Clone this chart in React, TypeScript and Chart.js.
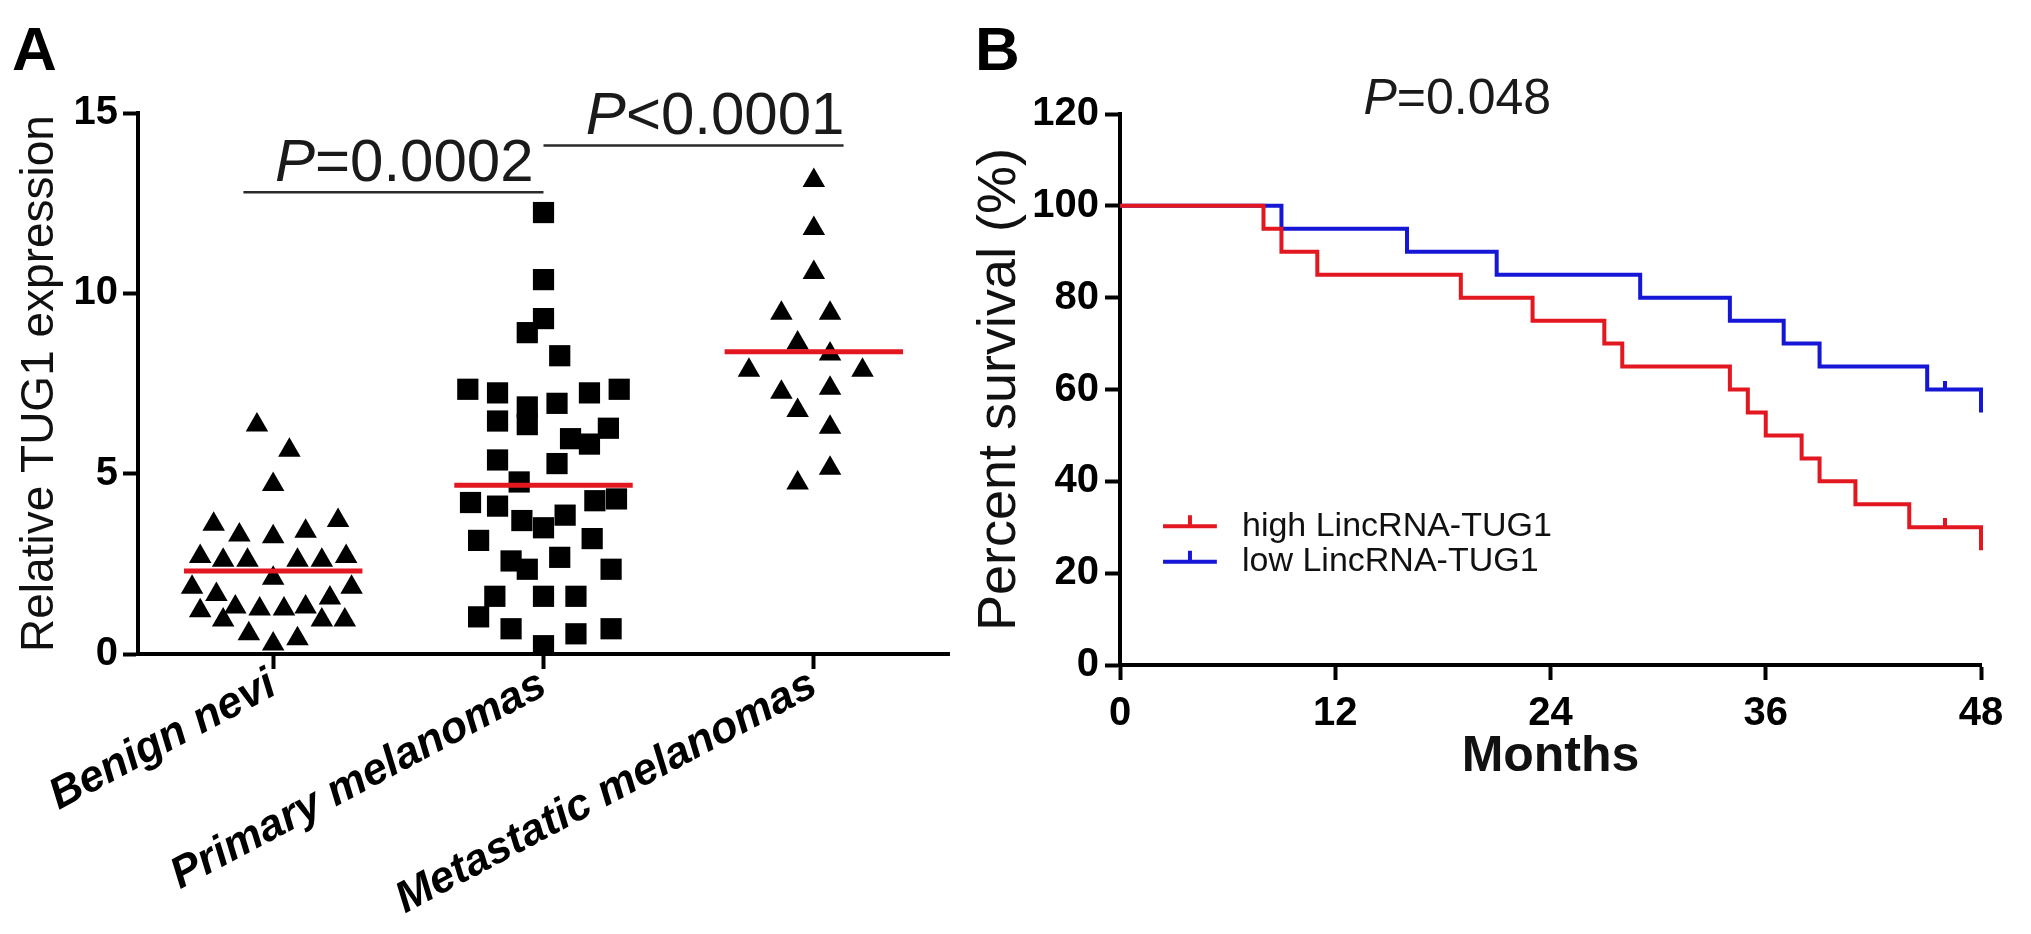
import { useEffect, useRef } from 'react';
import { Chart, registerables } from 'chart.js';

Chart.register(...registerables);

const FONT = 'Arial, "Liberation Sans", Helvetica, sans-serif';
const RED = '#e2171f';
const BLUE = '#1616d6';
const INK = '#111';

// ---- Panel A: relative TUG1 expression per group ----
const groups = ['Benign nevi', 'Primary melanomas', 'Metastatic melanomas'];

const benignValues = [6.35, 5.65, 4.7, 3.6, 3.3, 3.25, 3.4, 3.7, 2.7, 2.6, 2.6, 2.6, 2.6, 2.7, 2.1, 1.85, 1.65, 1.85, 1.55, 1.2, 1.3, 1.25, 1.25, 1.3, 0.94, 0.94, 0.94, 0.56, 0.42, 0.28];
const benignSpread = [-0.06, 0.06, 0, -0.22, -0.125, 0, 0.12, 0.24, -0.27, -0.185, -0.095, 0.09, 0.18, 0.27, 0, -0.3, -0.21, 0.29, 0.21, -0.27, -0.14, -0.05, 0.04, 0.12, -0.185, 0.18, 0.265, -0.09, 0.09, 0];

const primaryValues = [12.24, 10.38, 9.3, 8.91, 8.27, 7.34, 7.24, 6.85, 6.95, 7.24, 7.34, 6.46, 6.36, 6.26, 5.97, 5.82, 5.38, 5.28, 4.77, 4.2, 4.1, 4.25, 4.3, 3.7, 3.5, 3.85, 3.15, 3.2, 2.58, 2.35, 2.68, 2.35, 1.6, 1.6, 1.6, 1.03, 0.7, 0.56, 0.7, 0.23];
const primarySpread = [0, 0, 0, -0.06, 0.06, -0.28, -0.17, -0.06, 0.05, 0.17, 0.28, -0.17, -0.06, 0.24, 0.1, 0.17, -0.17, 0.05, -0.09, -0.27, -0.17, 0.19, 0.27, -0.08, 0, 0.08, -0.24, 0.18, -0.12, -0.06, 0.06, 0.25, -0.18, 0, 0.12, -0.24, -0.12, 0.12, 0.25, 0];

const metastaticValues = [13.13, 11.8, 10.58, 9.45, 9.45, 8.62, 8.32, 7.87, 7.87, 7.26, 7.37, 6.75, 6.29, 5.15, 4.74];
const metastaticSpread = [0, 0, 0, -0.12, 0.06, -0.06, 0.06, -0.24, 0.18, -0.12, 0.06, -0.06, 0.06, 0.06, -0.06];

const medians = [2.3, 4.68, 8.38];

// comparison bars
const pSignsA = ['=', '<'];
const pValuesA = ['0.0002', '0.0001'];
const pFrom = [-0.11, 1.0];
const pTo = [1.0, 2.11];
const pLevel = [12.8, 14.1];
const pTextShift = [0.04, 0.08];

// ---- Panel B: Kaplan-Meier ----
const seriesNames = ['high LincRNA-TUG1', 'low LincRNA-TUG1'];
const highMonths = [0, 8, 9, 11, 19, 23, 27, 28, 34, 35, 36, 38, 39, 41, 44, 48];
const highSurvival = [100, 95, 90, 85, 80, 75, 70, 65, 60, 55, 50, 45, 40, 35, 30, 25];
const lowMonths = [0, 9, 16, 21, 29, 34, 37, 39, 45, 48];
const lowSurvival = [100, 95, 90, 85, 80, 75, 70, 65, 60, 55];
const highCensored = [{ x: 46, y: 30 }];
const lowCensored = [{ x: 46, y: 60 }];
const pValueB = '0.048';

function drawPText(ctx: CanvasRenderingContext2D, sign: string, value: string, cx: number, baseline: number, size: number) {
  ctx.save();
  ctx.fillStyle = '#1a1a1a';
  ctx.textBaseline = 'alphabetic';
  ctx.textAlign = 'left';
  const italic = `italic ${size}px ${FONT}`;
  const normal = `${size}px ${FONT}`;
  ctx.font = italic;
  const wP = ctx.measureText('P').width;
  ctx.font = normal;
  const rest = sign + value;
  const wR = ctx.measureText(rest).width;
  const x0 = cx - (wP + wR) / 2;
  ctx.font = italic;
  ctx.fillText('P', x0, baseline);
  ctx.font = normal;
  ctx.fillText(rest, x0 + wP, baseline);
  ctx.restore();
}

function makeTick(color: string, len: number) {
  const c = document.createElement('canvas');
  c.width = 4;
  c.height = len * 2;
  const g = c.getContext('2d')!;
  g.fillStyle = color;
  g.fillRect(0, 0, 4, len);
  return c;
}

const axisBorder = { display: true, color: '#000', width: 4 };
const axisGrid = { display: true, drawOnChartArea: false, drawTicks: true, tickLength: 15, tickWidth: 4, tickColor: '#000' };
const tickFont = { family: FONT, size: 40, weight: 'bold' as const };

const bracketPlugin = {
  id: 'pBrackets',
  afterDraw(chart: any) {
    const { ctx, scales: { x, y } } = chart;
    pSignsA.forEach((sign, i) => {
      const x1 = x.getPixelForValue(pFrom[i]);
      const x2 = x.getPixelForValue(pTo[i]);
      const yy = y.getPixelForValue(pLevel[i]);
      ctx.save();
      ctx.strokeStyle = '#2a2a2a';
      ctx.lineWidth = 2.5;
      ctx.beginPath();
      ctx.moveTo(x1, yy);
      ctx.lineTo(x2, yy);
      ctx.stroke();
      ctx.restore();
      const cx = x.getPixelForValue((pFrom[i] + pTo[i]) / 2 + pTextShift[i]);
      drawPText(ctx, sign, pValuesA[i], cx, yy - 11, 60);
    });
  },
};

function PanelA() {
  const canvasRef = useRef<HTMLCanvasElement>(null);

  useEffect(() => {
    if (!canvasRef.current) return;
    const toPoints = (vals: number[], spread: number[], g: number) => vals.map((v, i) => ({ x: g + spread[i], y: v }));
    const chart = new Chart(canvasRef.current, {
      type: 'scatter',
      data: {
        datasets: [
          ...medians.map((m, i) => ({
            data: [{ x: i - 0.33, y: m }, { x: i + 0.33, y: m }],
            showLine: true,
            borderColor: RED,
            borderWidth: 5,
            pointRadius: 0,
          })),
          { data: toPoints(benignValues, benignSpread, 0), pointStyle: 'triangle', pointRadius: 13, backgroundColor: '#000', borderWidth: 0 },
          { data: toPoints(primaryValues, primarySpread, 1), pointStyle: 'rect', pointRadius: 15, backgroundColor: '#000', borderWidth: 0 },
          { data: toPoints(metastaticValues, metastaticSpread, 2), pointStyle: 'triangle', pointRadius: 13, backgroundColor: '#000', borderWidth: 0 },
        ],
      } as any,
      options: {
        animation: false,
        responsive: true,
        maintainAspectRatio: false,
        layout: { padding: { left: 0, top: 113, right: 61, bottom: 0 } },
        plugins: { legend: { display: false }, tooltip: { enabled: false } },
        scales: {
          x: {
            type: 'linear',
            min: -0.5,
            max: 2.5,
            afterBuildTicks: (s: any) => { s.ticks = groups.map((_, i) => ({ value: i })); },
            afterFit: (s: any) => { s.height = 280; },
            ticks: {
              callback: (v: any) => groups[v as number],
              minRotation: 28,
              maxRotation: 28,
              autoSkip: false,
              color: '#000',
              padding: -10,
              font: { family: FONT, size: 44, weight: 'bold', style: 'italic' },
            },
            border: axisBorder,
            grid: axisGrid,
          },
          y: {
            min: 0,
            max: 15,
            afterFit: (s: any) => { s.width = 138; },
            ticks: { stepSize: 5, color: '#000', padding: 5, font: tickFont },
            border: axisBorder,
            grid: axisGrid,
            title: {
              display: true,
              text: 'Relative TUG1 expression',
              color: INK,
              font: { family: FONT, size: 46 },
              padding: { top: 13, bottom: 0 },
            },
          },
        },
      } as any,
      plugins: [bracketPlugin],
    });
    return () => chart.destroy();
  }, []);

  return <canvas ref={canvasRef} style={{ display: 'block' }} />;
}

function PanelB() {
  const canvasRef = useRef<HTMLCanvasElement>(null);

  useEffect(() => {
    if (!canvasRef.current) return;
    const colors = [RED, BLUE];
    const tickRed = makeTick(RED, 9);
    const tickBlue = makeTick(BLUE, 9);

    const legendPlugin = {
      id: 'kmLegend',
      afterDraw(chart: any) {
        const { ctx, scales: { x, y } } = chart;
        const rows = [30.2, 22.5];
        seriesNames.forEach((name, i) => {
          const yy = y.getPixelForValue(rows[i]);
          const xa = x.getPixelForValue(2.4);
          const xb = x.getPixelForValue(5.4);
          const xm = (xa + xb) / 2;
          ctx.save();
          ctx.strokeStyle = colors[i];
          ctx.lineWidth = 4;
          ctx.beginPath();
          ctx.moveTo(xa, yy);
          ctx.lineTo(xb, yy);
          ctx.moveTo(xm, yy);
          ctx.lineTo(xm, yy - 11);
          ctx.stroke();
          ctx.fillStyle = INK;
          ctx.font = `34px ${FONT}`;
          ctx.textBaseline = 'middle';
          ctx.textAlign = 'left';
          ctx.fillText(name, x.getPixelForValue(6.8), yy);
          ctx.restore();
        });
        drawPText(ctx, '=', pValueB, x.getPixelForValue(18.8), y.getPixelForValue(120), 50);
      },
    };

    const chart = new Chart(canvasRef.current, {
      type: 'scatter',
      data: {
        datasets: [
          {
            label: seriesNames[0],
            data: highMonths.map((m, i) => ({ x: m, y: highSurvival[i] })),
            showLine: true,
            stepped: 'before',
            borderColor: RED,
            borderWidth: 4,
            pointRadius: 0,
            clip: false,
          },
          {
            label: seriesNames[1],
            data: lowMonths.map((m, i) => ({ x: m, y: lowSurvival[i] })),
            showLine: true,
            stepped: 'before',
            borderColor: BLUE,
            borderWidth: 4,
            pointRadius: 0,
            clip: false,
          },
          { data: highCensored, pointStyle: tickRed, pointRadius: 9 },
          { data: lowCensored, pointStyle: tickBlue, pointRadius: 9 },
        ],
      } as any,
      options: {
        animation: false,
        responsive: true,
        maintainAspectRatio: false,
        layout: { padding: { left: 0, top: 114, right: 50, bottom: 139 } },
        plugins: { legend: { display: false }, tooltip: { enabled: false } },
        scales: {
          x: {
            type: 'linear',
            min: 0,
            max: 48,
            afterFit: (s: any) => { s.height = 130; },
            ticks: { stepSize: 12, color: '#000', padding: 10, font: tickFont },
            border: axisBorder,
            grid: axisGrid,
            title: {
              display: true,
              text: 'Months',
              color: INK,
              font: { family: FONT, size: 50, weight: 'bold' },
              padding: { top: 0, bottom: 8 },
            },
          },
          y: {
            min: 0,
            max: 120,
            afterFit: (s: any) => { s.width = 160; },
            ticks: { stepSize: 20, color: '#000', padding: 6, font: tickFont },
            border: axisBorder,
            grid: axisGrid,
            title: {
              display: true,
              text: 'Percent survival (%)',
              color: INK,
              font: { family: FONT, size: 54 },
              padding: { top: 8, bottom: 0 },
            },
          },
        },
      } as any,
      plugins: [legendPlugin],
    });
    return () => chart.destroy();
  }, []);

  return <canvas ref={canvasRef} style={{ display: 'block' }} />;
}

const letterStyle = {
  position: 'absolute' as const,
  fontFamily: FONT,
  fontWeight: 'bold' as const,
  fontSize: 62,
  lineHeight: '62px',
  color: '#000',
};

export default function App() {
  return (
    <div style={{ position: 'fixed', left: 0, top: 0, width: 2031, height: 934, background: '#fff', overflow: 'hidden' }}>
      <div style={{ ...letterStyle, left: 12, top: 18 }}>A</div>
      <div style={{ ...letterStyle, left: 975, top: 18 }}>B</div>
      <div style={{ position: 'absolute', left: 0, top: 0, width: 1010, height: 934 }}>
        <PanelA />
      </div>
      <div style={{ position: 'absolute', left: 960, top: 0, width: 1071, height: 934 }}>
        <PanelB />
      </div>
    </div>
  );
}
